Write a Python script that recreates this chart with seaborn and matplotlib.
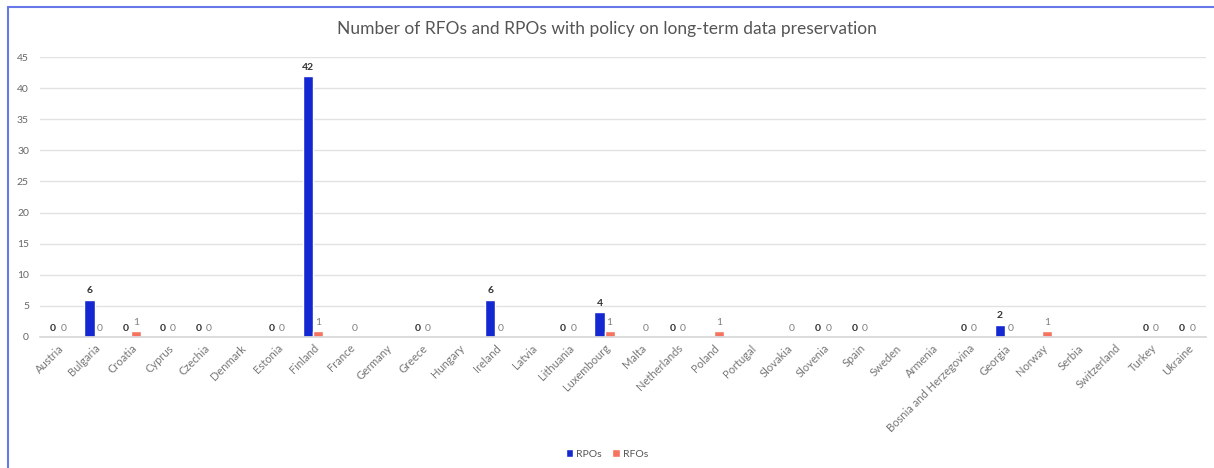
import numpy as np
import pandas as pd
import seaborn as sns
import matplotlib.pyplot as plt
from matplotlib.lines import Line2D

countries = ["Austria", "Bulgaria", "Croatia", "Cyprus", "Czechia", "Denmark", "Estonia",
             "Finland", "France", "Germany", "Greece", "Hungary", "Ireland", "Latvia",
             "Lithuania", "Luxembourg", "Malta", "Netherlands", "Poland", "Portugal",
             "Slovakia", "Slovenia", "Spain", "Sweden", "Armenia", "Bosnia and Herzegovina",
             "Georgia", "Norway", "Serbia", "Switzerland", "Turkey", "Ukraine"]
nan = np.nan
rpos = [0, 6, 0, 0, 0, nan, 0, 42, nan, nan, 0, nan, 6, nan, 0, 4, nan, 0, nan, nan,
        nan, 0, 0, nan, nan, 0, 2, nan, nan, nan, 0, 0]
rfos = [0, 0, 1, 0, 0, nan, 0, 1, 0, nan, 0, nan, 0, nan, 0, 1, 0, 0, 1, nan,
        0, 0, 0, nan, nan, 0, 0, 1, nan, nan, 0, 0]
series = ["RPOs", "RFOs"]
yticks = [0, 5, 10, 15, 20, 25, 30, 35, 40, 45]

sns.set_theme(style="white")
plt.rcParams['font.family'] = ['Lato', 'DejaVu Sans']

df = pd.DataFrame({
    "Country": countries * 2,
    "Series": ["RPOs"] * len(countries) + ["RFOs"] * len(countries),
    "Value": rpos + rfos,
})
df["Height"] = df["Value"].fillna(0)

fig = plt.figure(figsize=(12.14, 4.68), dpi=100)
ax = fig.add_axes([0.033, 0.280, 0.960, 0.598])

palette = {"RPOs": "#1428d2", "RFOs": "#f5735f"}
sns.barplot(data=df, x="Country", y="Height", hue="Series", order=countries,
            hue_order=series, palette=palette, width=0.56, gap=0, saturation=1,
            ax=ax, legend=True)

# data labels
label_style = {"RPOs": dict(color="#333333", fontweight="bold"),
               "RFOs": dict(color="#808080", fontweight="normal")}
for cont, name in zip(ax.containers, series):
    vals = df[df["Series"] == name]["Value"].tolist()
    labels = ["" if pd.isna(v) else f"{int(v)}" for v in vals]
    ax.bar_label(cont, labels=labels, padding=3, fontsize=7.5, **label_style[name])

ax.set_ylim(0, 45)
ax.set_xlim(-0.5, len(countries) - 0.5)
ax.set_yticks(yticks)
ax.yaxis.grid(True, color="#e2e2e2", linewidth=1)
ax.set_axisbelow(True)
for s in ["top", "right", "left"]:
    ax.spines[s].set_visible(False)
ax.spines["bottom"].set_color("#d8d8d8")
ax.tick_params(axis="y", length=0, labelsize=7.5, labelcolor="#666666", pad=8)
ax.tick_params(axis="x", length=0, labelsize=8, labelcolor="#777777", pad=4)
plt.setp(ax.get_xticklabels(), rotation=45, ha="right", rotation_mode="anchor")
ax.set_xlabel("")
ax.set_ylabel("")

fig.suptitle("Number of RFOs and RPOs with policy on long-term data preservation",
             y=0.955, fontsize=12.5, color="#555555")

ax.legend(loc="lower center", bbox_to_anchor=(0.5, 0.0), bbox_transform=fig.transFigure,
          ncol=2, frameon=False, fontsize=7.5, handlelength=0.7, handleheight=0.7,
          handletextpad=0.3, columnspacing=1.0, labelcolor="#555555")

# frame lines (top and left)
fig.add_artist(Line2D([0.0066, 0.0066], [0, 0.985], transform=fig.transFigure,
                      color="#6878e8", linewidth=1.5))
fig.add_artist(Line2D([0.0066, 1], [0.985, 0.985], transform=fig.transFigure,
                      color="#6878e8", linewidth=1.5))

fig.savefig("out.png", dpi=100)
